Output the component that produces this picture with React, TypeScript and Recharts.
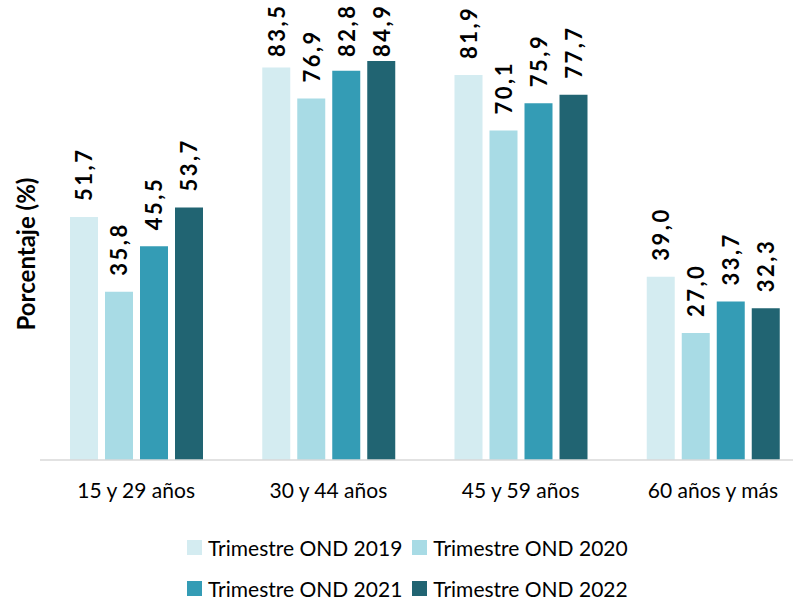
import { Bar, BarChart, LabelList, XAxis, YAxis } from "recharts";

const categories = ["15 y 29 años", "30 y 44 años", "45 y 59 años", "60 años y más"];
const ond2019 = [51.7, 83.5, 81.9, 39.0];
const ond2020 = [35.8, 76.9, 70.1, 27.0];
const ond2021 = [45.5, 82.8, 75.9, 33.7];
const ond2022 = [53.7, 84.9, 77.7, 32.3];

const series = [
  { key: "y2019", name: "Trimestre OND 2019", color: "#D4ECF1", values: ond2019 },
  { key: "y2020", name: "Trimestre OND 2020", color: "#A8DBE5", values: ond2020 },
  { key: "y2021", name: "Trimestre OND 2021", color: "#349CB5", values: ond2021 },
  { key: "y2022", name: "Trimestre OND 2022", color: "#216472", values: ond2022 },
];

const data = categories.map((cat, i) => {
  const row: Record<string, string | number> = { cat };
  series.forEach((s) => {
    row[s.key] = s.values[i];
  });
  return row;
});

const FONT = "Lato, 'Open Sans', sans-serif";

const fmt = (v: number) => v.toFixed(1).replace(".", ",");

// labels sit above the bar, but are pushed down so they stay inside the chart
function RotatedLabel(props: any) {
  const { x, y, width, value } = props;
  const cx = x + width / 2;
  const cy = Math.max(y - 16, 57);
  return (
    <text
      x={cx}
      y={cy}
      transform={`rotate(-90, ${cx}, ${cy})`}
      textAnchor="start"
      dominantBaseline="central"
      fontFamily={FONT}
      fontSize={22}
      fontWeight="bold"
      letterSpacing={2.5}
      fill="#000"
    >
      {fmt(Number(value))}
    </text>
  );
}

export default function App() {
  return (
    <div
      style={{
        position: "absolute",
        left: 0,
        top: 0,
        width: 793,
        height: 600,
        overflow: "hidden",
        background: "#fff",
        fontFamily: FONT,
      }}
    >
      <BarChart
        width={810}
        height={600}
        data={data}
        margin={{ top: 37, right: 1, left: 40, bottom: 110 }}
        barSize={28}
        barGap={7}
      >
        <XAxis
          dataKey="cat"
          height={30}
          tickLine={false}
          axisLine={{ stroke: "#D9D9D9", strokeWidth: 1.5 }}
          tick={{ fontSize: 21, fill: "#000", fontFamily: FONT }}
          tickMargin={17}
          interval={0}
        />
        <YAxis hide domain={[0, 90]} />
        {series.map((s) => (
          <Bar key={s.key} dataKey={s.key} name={s.name} fill={s.color} isAnimationActive={false}>
            <LabelList dataKey={s.key} content={<RotatedLabel />} />
          </Bar>
        ))}
      </BarChart>
      <div
        style={{
          position: "absolute",
          left: 25,
          top: 254,
          transform: "translate(-50%, -50%) rotate(-90deg)",
          fontSize: 24,
          fontWeight: "bold",
          whiteSpace: "nowrap",
          color: "#000",
        }}
      >
        Porcentaje (%)
      </div>
      <div
        style={{
          position: "absolute",
          left: 187,
          top: 534,
          display: "grid",
          gridTemplateColumns: "auto auto",
          columnGap: 10,
          rowGap: 15,
          fontSize: 21,
          color: "#000",
        }}
      >
        {series.map((s) => (
          <div key={s.key} style={{ display: "flex", alignItems: "center", height: 26 }}>
            <span
              style={{ display: "inline-block", width: 15, height: 15, background: s.color, marginRight: 6 }}
            />
            <span>{s.name}</span>
          </div>
        ))}
      </div>
    </div>
  );
}
